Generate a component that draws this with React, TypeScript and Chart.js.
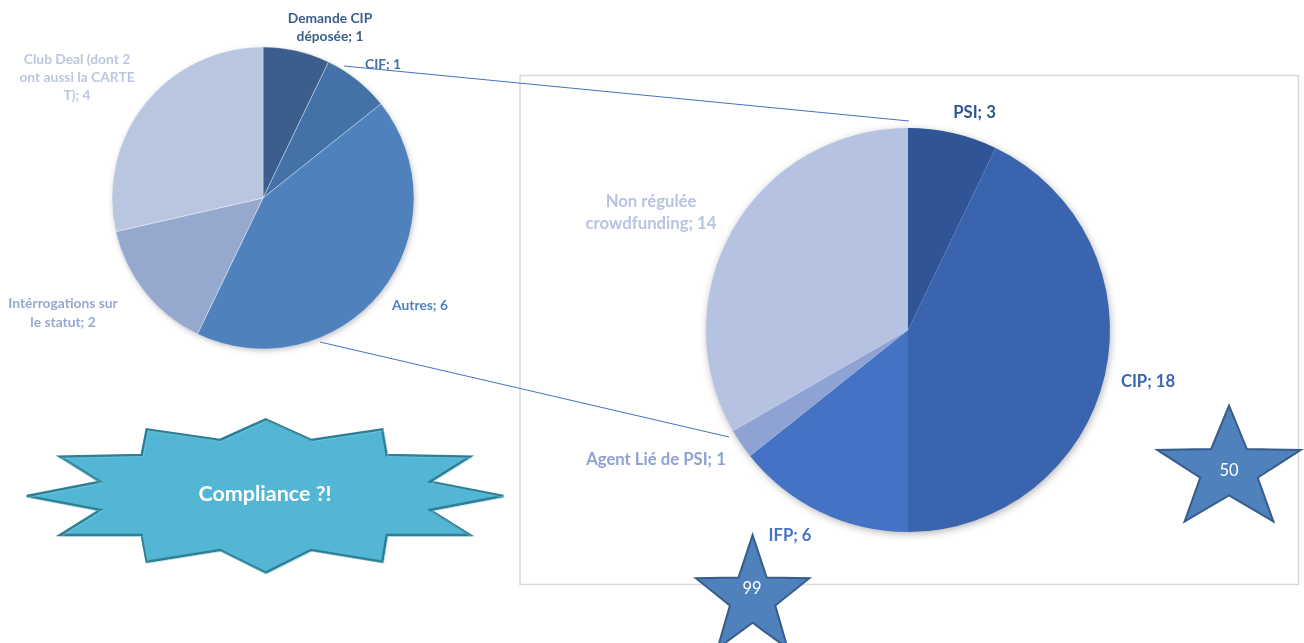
import React, { useEffect, useRef } from "react";
import { Chart, registerables } from "chart.js";

Chart.register(...registerables);

// ---------- data ----------
const leftCategories = [
  "Demande CIP déposée",
  "CIF",
  "Autres",
  "Intérrogations sur le statut",
  "Club Deal (dont 2 ont aussi la CARTE T)",
];
const leftValues = [1, 1, 6, 2, 4];

const rightCategories = ["PSI", "CIP", "IFP", "Agent Lié de PSI", "Non régulée crowdfunding"];
const rightValues = [3, 18, 6, 1, 14];

const starValues = ["50", "99"];
const calloutText = "Compliance ?!";

// ---------- styles / layout ----------
const leftColors = ["#3B5E8C", "#4471A7", "#4F81BD", "#95A9CF", "#B9C6DF"];
const rightColors = ["#2F5597", "#3A64AD", "#4472C4", "#8FA2D4", "#B6C2E1"];
const leftLabelColors = ["#3B5E8C", "#4470A5", "#4F81BD", "#95A9CF", "#BBC7E0"];
const rightLabelColors = ["#2F5597", "#3A64AD", "#4472C4", "#8FA2D4", "#B8C3E1"];

const leftLabelPos: [number, number][] = [
  [330, 27.5],
  [383, 65],
  [420, 306],
  [63, 313],
  [77, 77.5],
];
const leftLabelWrap = [92, 300, 300, 114, 122];
const rightLabelPos: [number, number][] = [
  [974.5, 113],
  [1148, 382],
  [790, 536],
  [656, 460],
  [651, 212.5],
];
const rightLabelWrap = [300, 300, 300, 300, 145];

const W = 1304;
const H = 643;
const FONT = "Lato, 'Open Sans', 'Liberation Sans', sans-serif";

function wrapText(ctx: CanvasRenderingContext2D, text: string, maxW: number): string[] {
  const words = text.split(" ");
  const lines: string[] = [];
  let cur = "";
  for (const w of words) {
    const test = cur ? cur + " " + w : w;
    if (cur && ctx.measureText(test).width > maxW) {
      lines.push(cur);
      cur = w;
    } else {
      cur = test;
    }
  }
  if (cur) lines.push(cur);
  return lines;
}

function labelPlugin(
  pos: [number, number][],
  wraps: number[],
  font: string,
  lineH: number,
  colors: string[]
) {
  return {
    id: "sliceLabels",
    afterDatasetsDraw(chart: any) {
      const ctx: CanvasRenderingContext2D = chart.ctx;
      const ds = chart.data.datasets[0];
      const labels = chart.data.labels as string[];
      ctx.save();
      ctx.font = font;
      ctx.textAlign = "center";
      ctx.textBaseline = "middle";
      labels.forEach((lab, i) => {
        const text = `${lab}; ${ds.data[i]}`;
        const lines = wrapText(ctx, text, wraps[i]);
        const [cx, cy] = pos[i];
        const top = cy - ((lines.length - 1) * lineH) / 2;
        ctx.fillStyle = colors[i];
        lines.forEach((l, j) => ctx.fillText(l, cx, top + j * lineH));
      });
      ctx.restore();
    },
  };
}

function shadowPlugin(blur: number, alpha: number) {
  return {
    id: "pieShadow",
    beforeDatasetsDraw(chart: any) {
      const arc = chart.getDatasetMeta(0).data[0];
      if (!arc) return;
      const { x, y, outerRadius } = arc.getProps(["x", "y", "outerRadius"], true);
      const ctx: CanvasRenderingContext2D = chart.ctx;
      ctx.save();
      ctx.shadowColor = `rgba(0,0,0,${alpha})`;
      ctx.shadowBlur = blur;
      ctx.shadowOffsetX = 1;
      ctx.shadowOffsetY = 2;
      ctx.beginPath();
      ctx.arc(x, y, outerRadius - 1, 0, Math.PI * 2);
      ctx.fillStyle = "#ffffff";
      ctx.fill();
      ctx.restore();
    },
  };
}

function starPoints(cx: number, cy: number, rx: number, ry: number, inner: number): string {
  const pts: string[] = [];
  for (let i = 0; i < 10; i++) {
    const a = (-90 + i * 36) * (Math.PI / 180);
    const r = i % 2 === 0 ? 1 : inner;
    pts.push(`${(cx + rx * r * Math.cos(a)).toFixed(1)},${(cy + ry * r * Math.sin(a)).toFixed(1)}`);
  }
  return pts.join(" ");
}

const burstPts: [number, number][] = [
  [265.7, 419.3], [311, 440], [382.3, 429.3], [386.7, 455], [470, 456.7], [430, 481.7],
  [503.3, 496], [430, 510], [470, 535], [386.7, 535], [382.3, 561.7], [311, 550],
  [265.7, 572.7], [220, 550], [146.7, 561.7], [141.7, 535], [60, 535], [100, 510],
  [26.7, 496], [100, 481.7], [60, 456.7], [141.7, 455], [146.7, 429.3], [220, 440],
];

export default function App() {
  const leftRef = useRef<HTMLCanvasElement>(null);
  const rightRef = useRef<HTMLCanvasElement>(null);

  useEffect(() => {
    const lc = { cx: 263, cy: 198, r: 151 };
    const rc = { cx: 908, cy: 330, r: 202 };
    const pad = (c: { cx: number; cy: number; r: number }) => ({
      left: c.cx - c.r,
      right: W - (c.cx + c.r),
      top: c.cy - c.r,
      bottom: H - (c.cy + c.r),
    });

    const left = new Chart(leftRef.current as HTMLCanvasElement, {
      type: "pie",
      data: {
        labels: leftCategories,
        datasets: [
          {
            data: leftValues,
            backgroundColor: leftColors,
            borderColor: "rgba(255,255,255,0.35)",
            borderWidth: 1,
            radius: lc.r,
          } as any,
        ],
      },
      options: {
        responsive: false,
        animation: false,
        events: [],
        layout: { padding: pad(lc) },
        plugins: { legend: { display: false }, tooltip: { enabled: false } },
      },
      plugins: [
        shadowPlugin(6, 0.3),
        labelPlugin(leftLabelPos, leftLabelWrap, `bold 13.8px ${FONT}`, 18.4, leftLabelColors),
      ],
    });

    const right = new Chart(rightRef.current as HTMLCanvasElement, {
      type: "pie",
      data: {
        labels: rightCategories,
        datasets: [
          {
            data: rightValues,
            backgroundColor: rightColors,
            borderWidth: 0,
            radius: rc.r,
          } as any,
        ],
      },
      options: {
        responsive: false,
        animation: false,
        events: [],
        layout: { padding: pad(rc) },
        plugins: { legend: { display: false }, tooltip: { enabled: false } },
      },
      plugins: [
        shadowPlugin(8, 0.35),
        labelPlugin(rightLabelPos, rightLabelWrap, `bold 16.7px ${FONT}`, 21.6, rightLabelColors),
      ],
    });

    return () => {
      left.destroy();
      right.destroy();
    };
  }, []);

  const abs: React.CSSProperties = { position: "absolute", left: 0, top: 0 };

  return (
    <div
      style={{
        position: "fixed",
        left: 0,
        top: 0,
        width: W,
        height: H,
        background: "#ffffff",
        overflow: "hidden",
      }}
    >
      <svg width={W} height={H} style={abs}>
        <rect x={520} y={75.5} width={778.5} height={509} fill="none" stroke="#D9D9D9" strokeWidth={1.5} />
      </svg>
      <canvas ref={leftRef} width={W} height={H} style={abs} />
      <canvas ref={rightRef} width={W} height={H} style={abs} />
      <svg width={W} height={H} style={abs}>
        <line x1={344} y1={66} x2={909} y2={121} stroke="#4472C4" strokeWidth={1} />
        <line x1={320} y1={342} x2={729} y2={437} stroke="#4472C4" strokeWidth={1} />

        <polygon
          points={starPoints(1229, 469.7, 75.5, 64, 0.4)}
          fill="#4F81BD"
          stroke="#385D8A"
          strokeWidth={2}
        />
        <text x={1229} y={472} fill="#ffffff" fontFamily={FONT} fontSize={16.5} textAnchor="middle" dominantBaseline="middle">
          {starValues[0]}
        </text>
        <polygon
          points={starPoints(752.6, 597.7, 59.6, 62.7, 0.4)}
          fill="#4F81BD"
          stroke="#385D8A"
          strokeWidth={2}
        />
        <text x={752} y={590} fill="#ffffff" fontFamily={FONT} fontSize={16.5} textAnchor="middle" dominantBaseline="middle">
          {starValues[1]}
        </text>

        <polygon
          points={burstPts.map((p) => p.join(",")).join(" ")}
          fill="#52B6D4"
          stroke="#2E7F96"
          strokeWidth={2.5}
        />
        <polygon
          points={burstPts.map((p) => p.join(",")).join(" ")}
          fill="none"
          stroke="#8FD3E6"
          strokeWidth={0.8}
          transform="translate(1.5,1.5)"
          opacity={0.6}
        />
        <text
          x={265}
          y={495}
          fill="#ffffff"
          fontFamily={FONT}
          fontWeight="bold"
          fontSize={21.5}
          textAnchor="middle"
          dominantBaseline="middle"
        >
          {calloutText}
        </text>
      </svg>
    </div>
  );
}
